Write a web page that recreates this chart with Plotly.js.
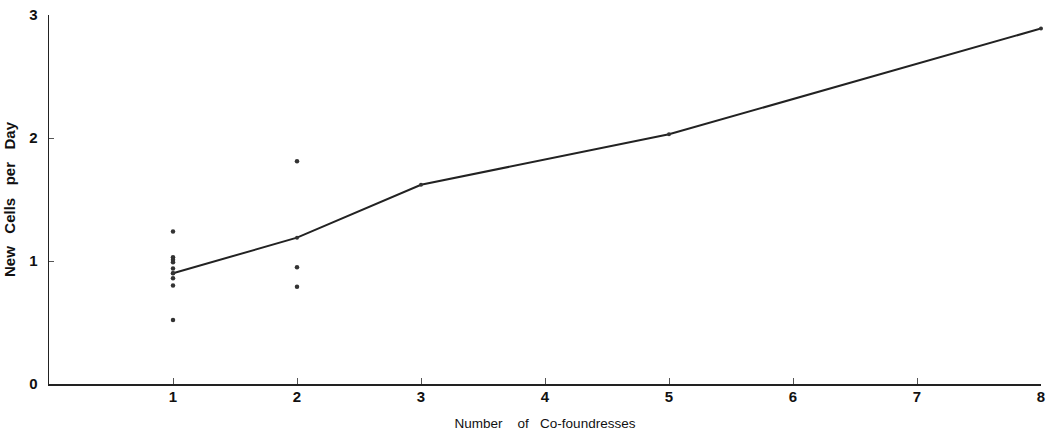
<!DOCTYPE html>
<html>
<head>
<meta charset="utf-8">
<script src="https://cdn.plot.ly/plotly-3.0.1.min.js"></script>
<style>html,body{margin:0;padding:0;background:#fff;}#chart{width:1047px;height:436px;}</style>
</head>
<body>
<div id="chart"></div>
<script>
// Individual observations
var ptsX = [1, 1, 1, 1, 1, 1, 1, 1, 1, 2, 2, 2];
var ptsY = [1.24, 1.03, 1.01, 0.99, 0.94, 0.90, 0.86, 0.80, 0.52, 1.81, 0.95, 0.79];
// Mean line
var lineX = [1, 2, 3, 5, 8];
var lineY = [0.90, 1.19, 1.62, 2.03, 2.89];
var xTicks = [1, 2, 3, 4, 5, 6, 7, 8];
var yTicks = [0, 1, 2, 3];
var xTitle = 'Number\u00a0\u00a0\u00a0 of\u00a0\u00a0 Co-foundresses';
var yTitle = 'New\u00a0\u00a0 Cells\u00a0\u00a0 per\u00a0\u00a0 Day';

var traces = [
  {x: lineX, y: lineY, mode: 'lines+markers', type: 'scatter',
   line: {color: '#222', width: 2}, marker: {color: '#333', size: 4},
   cliponaxis: false, hoverinfo: 'none'},
  {x: ptsX, y: ptsY, mode: 'markers', type: 'scatter',
   marker: {color: '#333', size: 4.5}, cliponaxis: false, hoverinfo: 'none'}
];

var tickFont = {family: 'Liberation Sans, Arial, sans-serif', size: 15, color: '#111', weight: 'bold'};
var layout = {
  width: 1047, height: 436,
  margin: {l: 49, r: 6, t: 15, b: 52},
  paper_bgcolor: '#fff', plot_bgcolor: '#fff',
  showlegend: false,
  xaxis: {
    range: [0, 8], tickvals: xTicks, ticktext: xTicks.map(String),
    ticks: 'inside', ticklen: 6, tickwidth: 1, tickcolor: '#555',
    showline: true, linecolor: '#222', linewidth: 1.5,
    showgrid: false, zeroline: false,
    tickfont: tickFont, ticklabelstandoff: -2,
    title: {text: xTitle, font: {family: 'Liberation Sans, Arial, sans-serif', size: 13.5, color: '#111'}, standoff: 15}
  },
  yaxis: {
    range: [0, 3], tickvals: yTicks, ticktext: yTicks.map(String),
    ticks: 'inside', ticklen: 5, tickwidth: 1, tickcolor: '#555',
    showline: true, linecolor: '#222', linewidth: 1.5,
    showgrid: false, zeroline: false,
    tickfont: tickFont, ticklabelstandoff: 7,
    title: {text: yTitle, font: {family: 'Liberation Sans, Arial, sans-serif', size: 15, color: '#111', weight: 'bold'}, standoff: 10}
  }
};
Plotly.newPlot('chart', traces, layout, {displayModeBar: false, staticPlot: true});
</script>
</body>
</html>
